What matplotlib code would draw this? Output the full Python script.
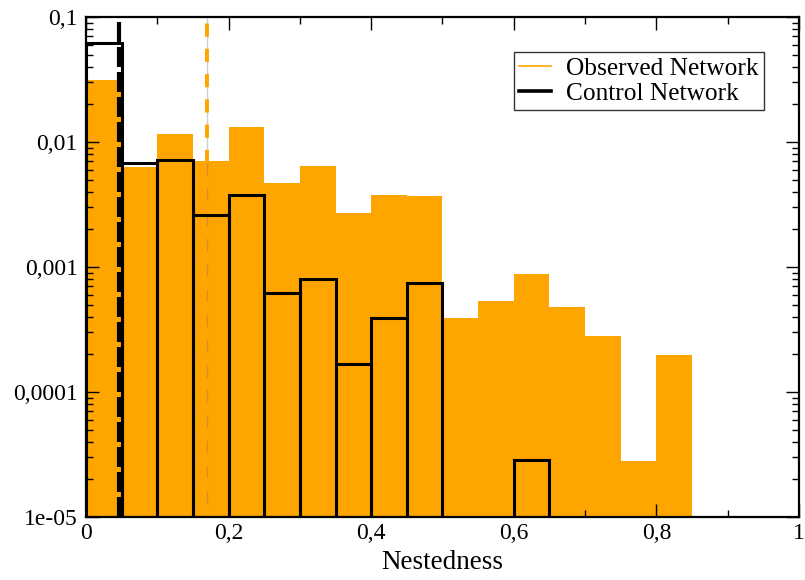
import numpy as np
import matplotlib
matplotlib.use('Agg')
import matplotlib.pyplot as plt
from matplotlib.lines import Line2D
from matplotlib.ticker import FixedLocator, NullFormatter

plt.rcParams['font.family'] = ['Liberation Serif', 'DejaVu Serif']

# Histogram bins of nestedness (width 0.05)
bin_left = [0.00, 0.05, 0.10, 0.15, 0.20, 0.25, 0.30, 0.35, 0.40,
            0.45, 0.50, 0.55, 0.60, 0.65, 0.70, 0.75, 0.80]
bin_width = 0.05

# Frequencies for the observed network
observed = [0.0314, 0.00634, 0.0117, 0.00708, 0.0132, 0.00473, 0.00645, 0.00269,
            0.00377, 0.00372, 0.000393, 0.000533, 0.000887, 0.000475, 0.000279,
            2.8e-05, 0.000196]

# Frequencies for the control network (zero bins are not drawn)
control = [0.0616, 0.00679, 0.00713, 0.00259, 0.0038, 0.000615, 0.000806, 0.000167,
           0.00039, 0.000752, 0.0, 0.0, 2.84e-05, 0.0, 0.0, 0.0, 0.0]

# Mean nestedness of each network
mean_observed = 0.17
mean_control = 0.047

y_ticks = [1e-05, 1e-04, 1e-03, 1e-02, 1e-01]
y_tick_labels = ['1e-05', '0,0001', '0,001', '0,01', '0,1']
x_ticks = [0, 0.2, 0.4, 0.6, 0.8, 1.0]
x_tick_labels = ['0', '0,2', '0,4', '0,6', '0,8', '1']

orange = '#FFA500'
ymin = 1e-05

fig = plt.figure(figsize=(8.05, 5.8), dpi=100)
ax = fig.add_axes([0.1068, 0.1086, 0.8857, 0.862])
ax.set_yscale('log')

obs_heights = np.array(observed) - ymin
ax.bar(bin_left, obs_heights, width=bin_width, bottom=ymin, align='edge',
       color=orange, edgecolor='none', linewidth=0, zorder=1)

ctrl = np.array(control)
mask = ctrl > 0
ax.bar(np.array(bin_left)[mask], ctrl[mask] - ymin, width=bin_width, bottom=ymin,
       align='edge', fill=False, edgecolor='black', linewidth=2.2, zorder=3)

# mean lines
ax.axvline(mean_observed, color='0.45', alpha=0.35, linewidth=1.0, zorder=2)
ax.axvline(mean_observed, color=orange, linewidth=2.8, dashes=(3.4, 3.1), zorder=2.5)
ax.axvline(mean_control, color='black', linewidth=3.0, dashes=(4.8, 1.2), zorder=4)

ax.set_xlim(0, 1)
ax.set_ylim(ymin, 0.1)

ax.yaxis.set_major_locator(FixedLocator(y_ticks))
ax.set_yticklabels(y_tick_labels)
minor_y = [m * 10.0 ** e for e in range(-5, -1) for m in range(2, 10)]
ax.yaxis.set_minor_locator(FixedLocator(minor_y))
ax.yaxis.set_minor_formatter(NullFormatter())

ax.xaxis.set_major_locator(FixedLocator(x_ticks))
ax.set_xticklabels(x_tick_labels)
ax.xaxis.set_minor_locator(FixedLocator([0.1, 0.3, 0.5, 0.7, 0.9]))

ax.tick_params(which='both', direction='in', top=True, right=True, width=1.0, labelsize=17)
ax.tick_params(which='major', length=9.5)
ax.tick_params(which='minor', length=5)
ax.tick_params(axis='y', pad=6)
ax.tick_params(axis='x', pad=4)

for sp in ax.spines.values():
    sp.set_linewidth(1.6)
    sp.set_zorder(5)

ax.set_xlabel('Nestedness', fontsize=19.5, labelpad=4.5)

handles = [Line2D([], [], color=orange, linewidth=1.2),
           Line2D([], [], color='black', linewidth=2.6)]
leg = ax.legend(handles, ['Observed Network', 'Control Network'],
                loc='upper right', bbox_to_anchor=(0.951, 0.93),
                fontsize=18.3, frameon=True, fancybox=False, shadow=False,
                handlelength=1.25, handletextpad=0.6, borderpad=0.2,
                labelspacing=0.08, borderaxespad=0)
leg.get_frame().set_edgecolor('black')
leg.get_frame().set_linewidth(1.0)

fig.savefig('out.png', dpi=100)
